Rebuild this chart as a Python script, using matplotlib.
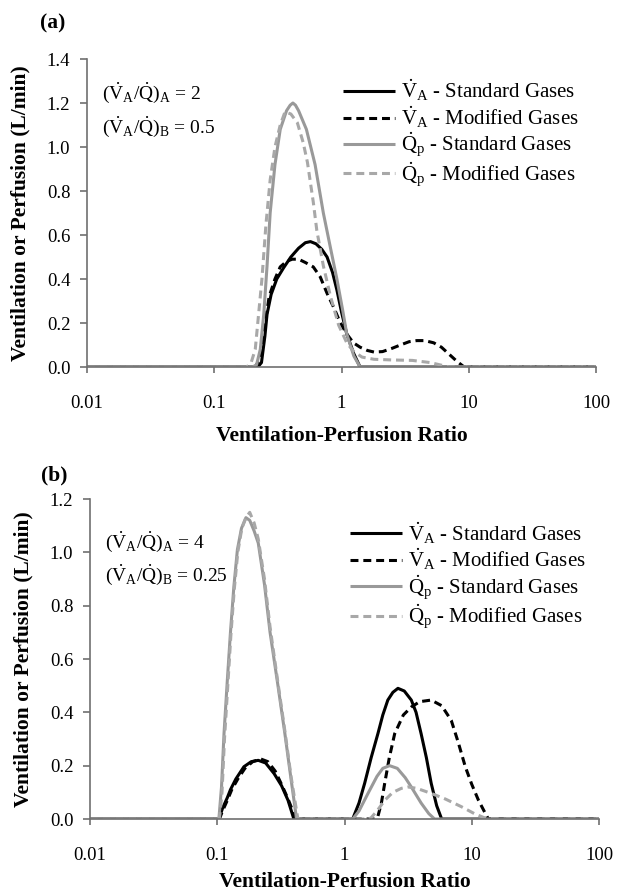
import matplotlib
matplotlib.use("Agg")
import matplotlib.pyplot as plt

plt.rcParams['font.family'] = ['Liberation Serif', 'DejaVu Serif']
plt.rcParams['mathtext.fontset'] = 'custom'
plt.rcParams['mathtext.rm'] = 'Liberation Serif'
plt.rcParams['mathtext.it'] = 'Liberation Serif:italic'
plt.rcParams['mathtext.bf'] = 'Liberation Serif:bold'

# ---- panel (a) data ----
va_std_a_x = [0.01, 0.22, 0.235, 0.25, 0.26, 0.28, 0.31, 0.35, 0.40, 0.46, 0.52, 0.57, 0.63, 0.70,
              0.77, 0.85, 0.92, 1.0, 1.1, 1.25, 1.4, 100]
va_std_a_y = [0, 0, 0.02, 0.14, 0.24, 0.33, 0.40, 0.45, 0.50, 0.54, 0.565, 0.57, 0.56, 0.535,
              0.50, 0.43, 0.35, 0.25, 0.15, 0.06, 0, 0]

va_mod_a_x = [0.01, 0.21, 0.225, 0.24, 0.27, 0.30, 0.33, 0.37, 0.41, 0.46, 0.52, 0.60, 0.68, 0.77,
              0.87, 0.98, 1.1, 1.24, 1.4, 1.6, 1.8, 2.1, 2.5, 2.9, 3.4, 3.9, 4.5, 5.3, 6.1, 6.8,
              8.1, 9.2, 100]
va_mod_a_y = [0, 0, 0.03, 0.12, 0.32, 0.40, 0.455, 0.48, 0.49, 0.49, 0.475, 0.455, 0.41, 0.335,
              0.27, 0.20, 0.15, 0.11, 0.09, 0.075, 0.068, 0.07, 0.085, 0.10, 0.115, 0.12, 0.12,
              0.11, 0.09, 0.065, 0.025, 0, 0]

qp_std_a_x = [0.01, 0.2, 0.215, 0.23, 0.245, 0.26, 0.275, 0.3, 0.33, 0.37, 0.395, 0.415, 0.435,
              0.46, 0.53, 0.62, 0.72, 0.82, 0.92, 1.02, 1.1, 1.25, 1.4, 100]
qp_std_a_y = [0, 0, 0.01, 0.08, 0.24, 0.46, 0.70, 0.92, 1.08, 1.165, 1.19, 1.20, 1.19,
              1.165, 1.08, 0.92, 0.70, 0.54, 0.40, 0.26, 0.15, 0.05, 0, 0]

qp_mod_a_x = [0.01, 0.18, 0.195, 0.21, 0.237, 0.255, 0.275, 0.3, 0.33, 0.36, 0.4, 0.45, 0.5, 0.54,
              0.6, 0.64, 0.72, 0.82, 0.95, 1.1, 1.25, 1.45, 1.8, 2.5, 3.6, 5, 7, 100]
qp_mod_a_y = [0, 0, 0.02, 0.08, 0.40, 0.65, 0.85, 1.0, 1.10, 1.16, 1.15, 1.11, 1.02, 0.93,
              0.75, 0.62, 0.46, 0.32, 0.19, 0.11, 0.07, 0.045, 0.035, 0.032, 0.03, 0.02, 0, 0]

# ---- panel (b) data ----
va_std_b_x = [0.01, 0.1, 0.103, 0.11, 0.12, 0.127, 0.14, 0.162, 0.185, 0.21, 0.24, 0.28, 0.32, 0.36,
              0.40, 1.16, 1.3, 1.44, 1.62, 1.83, 2.0, 2.19, 2.4, 2.63, 2.95, 3.35, 3.65, 4.0, 4.4,
              4.8, 5.3, 5.8, 100]
va_std_b_y = [0, 0, 0, 0.04, 0.08, 0.11, 0.15, 0.196, 0.215, 0.22, 0.21, 0.17, 0.125, 0.07,
              0, 0, 0.06, 0.134, 0.23, 0.32, 0.39, 0.446, 0.475, 0.49, 0.48, 0.446, 0.40, 0.32, 0.23,
              0.134, 0.05, 0, 0]

va_mod_b_x = [0.01, 0.1, 0.104, 0.11, 0.12, 0.13, 0.145, 0.165, 0.19, 0.22, 0.25, 0.285, 0.32, 0.36,
              0.40, 0.43, 1.75, 1.83, 1.95, 2.07, 2.25, 2.48, 2.9, 3.35, 3.9, 4.8, 5.8, 6.9, 7.8,
              8.9, 10, 11.3, 12.5, 13.5, 100]
va_mod_b_y = [0, 0, 0, 0.03, 0.07, 0.11, 0.15, 0.19, 0.215, 0.225, 0.215, 0.18, 0.13, 0.075,
              0.02, 0, 0, 0.01, 0.06, 0.134, 0.23, 0.32, 0.39, 0.42, 0.44, 0.446, 0.425, 0.37, 0.29,
              0.196, 0.13, 0.07, 0.03, 0, 0]

qp_std_b_x = [0.01, 0.1, 0.103, 0.108, 0.113, 0.12, 0.127, 0.135, 0.144, 0.155, 0.168, 0.18, 0.195,
              0.21, 0.235, 0.26, 0.3, 0.34, 0.38, 0.42, 1.16, 1.3, 1.53, 1.8, 2.0, 2.26, 2.6, 3.0,
              3.35, 4.0, 4.6, 5.1, 100]
qp_std_b_y = [0, 0, 0, 0.12, 0.32, 0.52, 0.70, 0.87, 1.01, 1.09, 1.13, 1.12, 1.08,
              1.035, 0.88, 0.70, 0.50, 0.32, 0.15, 0, 0, 0.03, 0.096, 0.16, 0.19, 0.20, 0.19, 0.155,
              0.12, 0.06, 0.02, 0, 0]

qp_mod_b_x = [0.01, 0.1, 0.104, 0.109, 0.114, 0.121, 0.128, 0.136, 0.145, 0.156, 0.168, 0.18, 0.195,
              0.21, 0.235, 0.26, 0.3, 0.34, 0.38, 0.43, 1.55, 1.62, 1.8, 2.07, 2.4, 2.8, 3.16, 3.7,
              4.8, 6.2, 8.3, 10.5, 12.5, 15, 100]
qp_mod_b_y = [0, 0, 0, 0.10, 0.30, 0.50, 0.69, 0.86, 1.00, 1.09, 1.13, 1.15, 1.11,
              1.05, 0.90, 0.72, 0.51, 0.33, 0.16, 0, 0, 0.005, 0.03, 0.07, 0.10, 0.115, 0.12, 0.115,
              0.096, 0.075, 0.046, 0.02, 0.005, 0, 0]

x_ticks = [0.01, 0.1, 1, 10, 100]
x_tick_labels = ['0.01', '0.1', '1', '10', '100']

VA = r'$\dot{\mathrm{V}}_\mathrm{A}$'
QP = r'$\dot{\mathrm{Q}}_\mathrm{p}$'
labels = [VA + ' - Standard Gases', VA + ' - Modified Gases',
          QP + ' - Standard Gases', QP + ' - Modified Gases']

BLACK = '#000000'
GRAY = '#999999'
LGRAY = '#a8a8a8'
SPINE = '#707070'
DASH = (2.6, 1.6)


def draw_panel(ax, series, ymax, ratios, legend_pos, label_top):
    styles = [(BLACK, None), (BLACK, DASH), (GRAY, None), (LGRAY, DASH)]
    for (x, y), (c, d), lab in zip(series, styles, labels):
        line, = ax.plot(x, y, color=c, lw=2.2, label=lab, solid_capstyle='butt')
        if d is not None:
            line.set_dashes(d)
    ax.set_xscale('log')
    ax.set_xlim(0.01, 100)
    ax.set_ylim(0, ymax)
    ax.set_xticks(x_ticks)
    ax.set_xticklabels(x_tick_labels)
    ax.minorticks_off()
    ax.set_yticks([i * 0.2 for i in range(int(round(ymax / 0.2)) + 1)])
    ax.yaxis.set_major_formatter(matplotlib.ticker.FormatStrFormatter('%.1f'))
    for s in ['top', 'right']:
        ax.spines[s].set_visible(False)
    for s in ['left', 'bottom']:
        ax.spines[s].set_color(SPINE)
        ax.spines[s].set_linewidth(1.2)
    ax.tick_params(axis='x', direction='out', length=4.5, width=1.2, color=SPINE,
                   labelsize=13.5, pad=16)
    ax.tick_params(axis='y', direction='out', length=5, width=1.2, color=SPINE,
                   labelsize=13.5, pad=7)
    ax.set_ylabel('Ventilation or Perfusion (L/min)', fontsize=15.5, fontweight='bold')
    ax.yaxis.set_label_coords(-0.112, 0.5)
    ax.set_xlabel('Ventilation-Perfusion Ratio', fontsize=15.5, fontweight='bold')
    ax.xaxis.set_label_coords(0.5, label_top)

    (ta, ya1), (tb, ya2) = ratios
    ax.text(0.03, ya1, r'$(\dot{\mathrm{V}}_\mathrm{A}/\dot{\mathrm{Q}})_\mathrm{A}$ = ' + ta,
            transform=ax.transAxes, fontsize=14, va='center', ha='left')
    ax.text(0.03, ya2, r'$(\dot{\mathrm{V}}_\mathrm{A}/\dot{\mathrm{Q}})_\mathrm{B}$ = ' + tb,
            transform=ax.transAxes, fontsize=14, va='center', ha='left')

    ax.legend(loc='upper left', bbox_to_anchor=legend_pos, frameon=False, fontsize=15,
              handlelength=2.5, handletextpad=0.3, labelspacing=0.05, borderpad=0,
              borderaxespad=0)


fig = plt.figure(figsize=(6.18, 8.92), dpi=100)

ax_a = fig.add_axes([87 / 618, 1 - 367 / 892, 509 / 618, 308 / 892])
draw_panel(ax_a,
           [(va_std_a_x, va_std_a_y), (va_mod_a_x, va_mod_a_y),
            (qp_std_a_x, qp_std_a_y), (qp_mod_a_x, qp_mod_a_y)],
           1.4, [('2', 0.89), ('0.5', 0.78)], (0.503, 0.94), -0.19)

ax_b = fig.add_axes([90 / 618, 1 - 819 / 892, 509 / 618, 320 / 892])
draw_panel(ax_b,
           [(va_std_b_x, va_std_b_y), (va_mod_b_x, va_mod_b_y),
            (qp_std_b_x, qp_std_b_y), (qp_mod_b_x, qp_mod_b_y)],
           1.2, [('4', 0.866), ('0.25', 0.762)], (0.51, 0.935), -0.165)

fig.text(53 / 618, 1 - 23 / 892, '(a)', fontsize=15.5, fontweight='bold', ha='center', va='center')
fig.text(54 / 618, 1 - 475 / 892, '(b)', fontsize=15.5, fontweight='bold', ha='center', va='center')

fig.savefig('out.png', dpi=100)
